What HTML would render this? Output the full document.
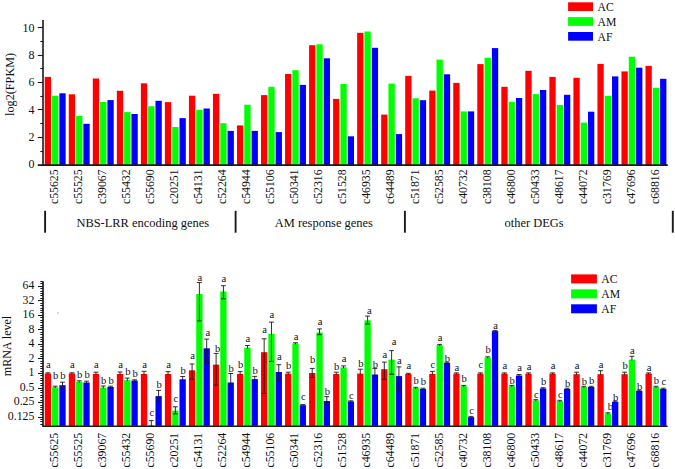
<!DOCTYPE html><html><head><meta charset="utf-8"><style>html,body{margin:0;padding:0;background:#fff;}body{width:675px;height:469px;overflow:hidden;}svg{display:block;}text{font-family:"Liberation Serif",serif;fill:#111;}</style></head><body>
<svg width="675" height="469" viewBox="0 0 675 469">
<rect width="675" height="469" fill="#fff"/>
<g>
<rect x="44.75" y="76.90" width="6.3" height="88.10" fill="#ff0000"/>
<rect x="52.05" y="95.70" width="6.3" height="69.30" fill="#00ff00"/>
<rect x="59.35" y="93.30" width="6.3" height="71.70" fill="#0000ff"/>
<rect x="68.78" y="94.30" width="6.3" height="70.70" fill="#ff0000"/>
<rect x="76.08" y="115.90" width="6.3" height="49.10" fill="#00ff00"/>
<rect x="83.38" y="123.80" width="6.3" height="41.20" fill="#0000ff"/>
<rect x="92.81" y="78.50" width="6.3" height="86.50" fill="#ff0000"/>
<rect x="100.11" y="102.00" width="6.3" height="63.00" fill="#00ff00"/>
<rect x="107.41" y="100.10" width="6.3" height="64.90" fill="#0000ff"/>
<rect x="116.84" y="90.75" width="6.3" height="74.25" fill="#ff0000"/>
<rect x="124.14" y="112.10" width="6.3" height="52.90" fill="#00ff00"/>
<rect x="131.44" y="114.00" width="6.3" height="51.00" fill="#0000ff"/>
<rect x="140.87" y="83.30" width="6.3" height="81.70" fill="#ff0000"/>
<rect x="148.17" y="106.30" width="6.3" height="58.70" fill="#00ff00"/>
<rect x="155.47" y="100.80" width="6.3" height="64.20" fill="#0000ff"/>
<rect x="164.90" y="102.10" width="6.3" height="62.90" fill="#ff0000"/>
<rect x="172.20" y="127.00" width="6.3" height="38.00" fill="#00ff00"/>
<rect x="179.50" y="118.10" width="6.3" height="46.90" fill="#0000ff"/>
<rect x="188.93" y="95.70" width="6.3" height="69.30" fill="#ff0000"/>
<rect x="196.23" y="109.80" width="6.3" height="55.20" fill="#00ff00"/>
<rect x="203.53" y="108.50" width="6.3" height="56.50" fill="#0000ff"/>
<rect x="212.96" y="93.80" width="6.3" height="71.20" fill="#ff0000"/>
<rect x="220.26" y="123.20" width="6.3" height="41.80" fill="#00ff00"/>
<rect x="227.56" y="130.90" width="6.3" height="34.10" fill="#0000ff"/>
<rect x="236.99" y="125.40" width="6.3" height="39.60" fill="#ff0000"/>
<rect x="244.29" y="104.70" width="6.3" height="60.30" fill="#00ff00"/>
<rect x="251.59" y="130.90" width="6.3" height="34.10" fill="#0000ff"/>
<rect x="261.02" y="95.10" width="6.3" height="69.90" fill="#ff0000"/>
<rect x="268.32" y="86.80" width="6.3" height="78.20" fill="#00ff00"/>
<rect x="275.62" y="132.10" width="6.3" height="32.90" fill="#0000ff"/>
<rect x="285.05" y="74.00" width="6.3" height="91.00" fill="#ff0000"/>
<rect x="292.35" y="70.20" width="6.3" height="94.80" fill="#00ff00"/>
<rect x="299.65" y="84.90" width="6.3" height="80.10" fill="#0000ff"/>
<rect x="309.08" y="45.20" width="6.3" height="119.80" fill="#ff0000"/>
<rect x="316.38" y="44.30" width="6.3" height="120.70" fill="#00ff00"/>
<rect x="323.68" y="58.30" width="6.3" height="106.70" fill="#0000ff"/>
<rect x="333.11" y="98.90" width="6.3" height="66.10" fill="#ff0000"/>
<rect x="340.41" y="83.90" width="6.3" height="81.10" fill="#00ff00"/>
<rect x="347.71" y="136.30" width="6.3" height="28.70" fill="#0000ff"/>
<rect x="357.14" y="32.80" width="6.3" height="132.20" fill="#ff0000"/>
<rect x="364.44" y="31.50" width="6.3" height="133.50" fill="#00ff00"/>
<rect x="371.74" y="47.80" width="6.3" height="117.20" fill="#0000ff"/>
<rect x="381.17" y="114.60" width="6.3" height="50.40" fill="#ff0000"/>
<rect x="388.47" y="83.60" width="6.3" height="81.40" fill="#00ff00"/>
<rect x="395.77" y="134.10" width="6.3" height="30.90" fill="#0000ff"/>
<rect x="405.20" y="75.90" width="6.3" height="89.10" fill="#ff0000"/>
<rect x="412.50" y="98.30" width="6.3" height="66.70" fill="#00ff00"/>
<rect x="419.80" y="100.20" width="6.3" height="64.80" fill="#0000ff"/>
<rect x="429.23" y="90.60" width="6.3" height="74.40" fill="#ff0000"/>
<rect x="436.53" y="59.60" width="6.3" height="105.40" fill="#00ff00"/>
<rect x="443.83" y="74.30" width="6.3" height="90.70" fill="#0000ff"/>
<rect x="453.26" y="82.90" width="6.3" height="82.10" fill="#ff0000"/>
<rect x="460.56" y="111.40" width="6.3" height="53.60" fill="#00ff00"/>
<rect x="467.86" y="111.40" width="6.3" height="53.60" fill="#0000ff"/>
<rect x="477.29" y="64.10" width="6.3" height="100.90" fill="#ff0000"/>
<rect x="484.59" y="57.70" width="6.3" height="107.30" fill="#00ff00"/>
<rect x="491.89" y="48.10" width="6.3" height="116.90" fill="#0000ff"/>
<rect x="501.32" y="86.80" width="6.3" height="78.20" fill="#ff0000"/>
<rect x="508.62" y="101.80" width="6.3" height="63.20" fill="#00ff00"/>
<rect x="515.92" y="98.00" width="6.3" height="67.00" fill="#0000ff"/>
<rect x="525.35" y="70.80" width="6.3" height="94.20" fill="#ff0000"/>
<rect x="532.65" y="94.10" width="6.3" height="70.90" fill="#00ff00"/>
<rect x="539.95" y="90.00" width="6.3" height="75.00" fill="#0000ff"/>
<rect x="549.38" y="76.90" width="6.3" height="88.10" fill="#ff0000"/>
<rect x="556.68" y="105.00" width="6.3" height="60.00" fill="#00ff00"/>
<rect x="563.98" y="94.80" width="6.3" height="70.20" fill="#0000ff"/>
<rect x="573.41" y="77.80" width="6.3" height="87.20" fill="#ff0000"/>
<rect x="580.71" y="122.60" width="6.3" height="42.40" fill="#00ff00"/>
<rect x="588.01" y="111.70" width="6.3" height="53.30" fill="#0000ff"/>
<rect x="597.44" y="63.90" width="6.3" height="101.10" fill="#ff0000"/>
<rect x="604.74" y="95.80" width="6.3" height="69.20" fill="#00ff00"/>
<rect x="612.04" y="76.40" width="6.3" height="88.60" fill="#0000ff"/>
<rect x="621.47" y="71.40" width="6.3" height="93.60" fill="#ff0000"/>
<rect x="628.77" y="56.70" width="6.3" height="108.30" fill="#00ff00"/>
<rect x="636.07" y="67.70" width="6.3" height="97.30" fill="#0000ff"/>
<rect x="645.50" y="65.90" width="6.3" height="99.10" fill="#ff0000"/>
<rect x="652.80" y="87.80" width="6.3" height="77.20" fill="#00ff00"/>
<rect x="660.10" y="78.80" width="6.3" height="86.20" fill="#0000ff"/>
<line x1="43" y1="20.1" x2="43" y2="165.8" stroke="#1a1a1a" stroke-width="1.6"/>
<line x1="37.8" y1="165.1" x2="667.8" y2="165.1" stroke="#1a1a1a" stroke-width="1.6"/>
<text x="34.6" y="168.30" font-size="12" text-anchor="end">0</text>
<line x1="40.3" y1="151.50" x2="43" y2="151.50" stroke="#1a1a1a" stroke-width="1.1"/>
<line x1="37.8" y1="137.50" x2="43" y2="137.50" stroke="#1a1a1a" stroke-width="1.1"/>
<text x="34.6" y="140.94" font-size="12" text-anchor="end">2</text>
<line x1="40.3" y1="123.50" x2="43" y2="123.50" stroke="#1a1a1a" stroke-width="1.1"/>
<line x1="37.8" y1="109.50" x2="43" y2="109.50" stroke="#1a1a1a" stroke-width="1.1"/>
<text x="34.6" y="113.58" font-size="12" text-anchor="end">4</text>
<line x1="40.3" y1="96.50" x2="43" y2="96.50" stroke="#1a1a1a" stroke-width="1.1"/>
<line x1="37.8" y1="82.50" x2="43" y2="82.50" stroke="#1a1a1a" stroke-width="1.1"/>
<text x="34.6" y="86.22" font-size="12" text-anchor="end">6</text>
<line x1="40.3" y1="68.50" x2="43" y2="68.50" stroke="#1a1a1a" stroke-width="1.1"/>
<line x1="37.8" y1="55.50" x2="43" y2="55.50" stroke="#1a1a1a" stroke-width="1.1"/>
<text x="34.6" y="58.86" font-size="12" text-anchor="end">8</text>
<line x1="40.3" y1="41.50" x2="43" y2="41.50" stroke="#1a1a1a" stroke-width="1.1"/>
<line x1="37.8" y1="27.50" x2="43" y2="27.50" stroke="#1a1a1a" stroke-width="1.1"/>
<text x="34.6" y="31.50" font-size="12" text-anchor="end">10</text>
<text transform="translate(14.0,84.4) rotate(-90)" font-size="12.2" text-anchor="middle">log2(FPKM)</text>
<text transform="translate(58.05,169.4) rotate(-90) scale(1,1.07)" font-size="11.8" text-anchor="end">c55625</text>
<text transform="translate(82.08,169.4) rotate(-90) scale(1,1.07)" font-size="11.8" text-anchor="end">c55525</text>
<text transform="translate(106.11,169.4) rotate(-90) scale(1,1.07)" font-size="11.8" text-anchor="end">c39067</text>
<text transform="translate(130.14,169.4) rotate(-90) scale(1,1.07)" font-size="11.8" text-anchor="end">c55432</text>
<text transform="translate(154.17,169.4) rotate(-90) scale(1,1.07)" font-size="11.8" text-anchor="end">c55690</text>
<text transform="translate(178.20,169.4) rotate(-90) scale(1,1.07)" font-size="11.8" text-anchor="end">c20251</text>
<text transform="translate(202.23,169.4) rotate(-90) scale(1,1.07)" font-size="11.8" text-anchor="end">c54131</text>
<text transform="translate(226.26,169.4) rotate(-90) scale(1,1.07)" font-size="11.8" text-anchor="end">c52264</text>
<text transform="translate(250.29,169.4) rotate(-90) scale(1,1.07)" font-size="11.8" text-anchor="end">c54944</text>
<text transform="translate(274.32,169.4) rotate(-90) scale(1,1.07)" font-size="11.8" text-anchor="end">c55106</text>
<text transform="translate(298.35,169.4) rotate(-90) scale(1,1.07)" font-size="11.8" text-anchor="end">c50341</text>
<text transform="translate(322.38,169.4) rotate(-90) scale(1,1.07)" font-size="11.8" text-anchor="end">c52316</text>
<text transform="translate(346.41,169.4) rotate(-90) scale(1,1.07)" font-size="11.8" text-anchor="end">c51528</text>
<text transform="translate(370.44,169.4) rotate(-90) scale(1,1.07)" font-size="11.8" text-anchor="end">c46935</text>
<text transform="translate(394.47,169.4) rotate(-90) scale(1,1.07)" font-size="11.8" text-anchor="end">c64489</text>
<text transform="translate(418.50,169.4) rotate(-90) scale(1,1.07)" font-size="11.8" text-anchor="end">c51871</text>
<text transform="translate(442.53,169.4) rotate(-90) scale(1,1.07)" font-size="11.8" text-anchor="end">c52585</text>
<text transform="translate(466.56,169.4) rotate(-90) scale(1,1.07)" font-size="11.8" text-anchor="end">c40732</text>
<text transform="translate(490.59,169.4) rotate(-90) scale(1,1.07)" font-size="11.8" text-anchor="end">c38108</text>
<text transform="translate(514.62,169.4) rotate(-90) scale(1,1.07)" font-size="11.8" text-anchor="end">c46800</text>
<text transform="translate(538.65,169.4) rotate(-90) scale(1,1.07)" font-size="11.8" text-anchor="end">c50433</text>
<text transform="translate(562.68,169.4) rotate(-90) scale(1,1.07)" font-size="11.8" text-anchor="end">c48617</text>
<text transform="translate(586.71,169.4) rotate(-90) scale(1,1.07)" font-size="11.8" text-anchor="end">c44072</text>
<text transform="translate(610.74,169.4) rotate(-90) scale(1,1.07)" font-size="11.8" text-anchor="end">c31769</text>
<text transform="translate(634.77,169.4) rotate(-90) scale(1,1.07)" font-size="11.8" text-anchor="end">c47696</text>
<text transform="translate(658.80,169.4) rotate(-90) scale(1,1.07)" font-size="11.8" text-anchor="end">c68816</text>
<rect x="568.1" y="2.30" width="24.9" height="8.7" fill="#ff0000"/>
<text x="597.6" y="10.80" font-size="11.7">AC</text>
<rect x="568.1" y="17.15" width="24.9" height="8.7" fill="#00ff00"/>
<text x="597.6" y="25.65" font-size="11.7">AM</text>
<rect x="568.1" y="32.00" width="24.9" height="8.7" fill="#0000ff"/>
<text x="597.6" y="40.50" font-size="11.7">AF</text>
<line x1="45.1" y1="210.8" x2="45.1" y2="232.7" stroke="#1a1a1a" stroke-width="1.9"/>
<line x1="235.6" y1="210.8" x2="235.6" y2="232.7" stroke="#1a1a1a" stroke-width="1.9"/>
<line x1="404.9" y1="210.8" x2="404.9" y2="232.7" stroke="#1a1a1a" stroke-width="1.9"/>
<line x1="672.8" y1="210.8" x2="672.8" y2="232.7" stroke="#1a1a1a" stroke-width="1.9"/>
<text transform="translate(76.4,226.9) scale(1,1.05)" font-size="12.45">NBS-LRR encoding genes</text>
<text transform="translate(274.8,226.9) scale(1,1.05)" font-size="12.45">AM response genes</text>
<text transform="translate(504.5,226.9) scale(1,1.05)" font-size="12.45">other DEGs</text>
<rect x="44.75" y="373.50" width="6.3" height="52.40" fill="#ff0000"/>
<line x1="47.90" y1="372.80" x2="47.90" y2="374.30" stroke="#1a1a1a" stroke-width="0.9"/>
<line x1="45.50" y1="372.80" x2="50.30" y2="372.80" stroke="#1a1a1a" stroke-width="0.9"/>
<text x="48.40" y="368.00" font-size="10.6" text-anchor="middle">a</text>
<rect x="52.05" y="387.20" width="6.3" height="38.70" fill="#00ff00"/>
<line x1="55.20" y1="386.20" x2="55.20" y2="388.00" stroke="#1a1a1a" stroke-width="0.9"/>
<line x1="52.80" y1="386.20" x2="57.60" y2="386.20" stroke="#1a1a1a" stroke-width="0.9"/>
<text x="55.70" y="378.90" font-size="10.6" text-anchor="middle">b</text>
<rect x="59.35" y="385.20" width="6.3" height="40.70" fill="#0000ff"/>
<line x1="62.50" y1="382.20" x2="62.50" y2="388.00" stroke="#1a1a1a" stroke-width="0.9"/>
<line x1="60.10" y1="382.20" x2="64.90" y2="382.20" stroke="#1a1a1a" stroke-width="0.9"/>
<line x1="60.10" y1="388.00" x2="64.90" y2="388.00" stroke="#1a1a1a" stroke-width="0.9"/>
<text x="63.00" y="378.90" font-size="10.6" text-anchor="middle">b</text>
<rect x="68.78" y="373.50" width="6.3" height="52.40" fill="#ff0000"/>
<line x1="71.93" y1="372.80" x2="71.93" y2="374.30" stroke="#1a1a1a" stroke-width="0.9"/>
<line x1="69.53" y1="372.80" x2="74.33" y2="372.80" stroke="#1a1a1a" stroke-width="0.9"/>
<text x="72.43" y="368.30" font-size="10.6" text-anchor="middle">a</text>
<rect x="76.08" y="381.70" width="6.3" height="44.20" fill="#00ff00"/>
<line x1="79.23" y1="380.80" x2="79.23" y2="382.50" stroke="#1a1a1a" stroke-width="0.9"/>
<line x1="76.83" y1="380.80" x2="81.63" y2="380.80" stroke="#1a1a1a" stroke-width="0.9"/>
<text x="79.73" y="377.50" font-size="10.6" text-anchor="middle">b</text>
<rect x="83.38" y="382.50" width="6.3" height="43.40" fill="#0000ff"/>
<line x1="86.53" y1="381.20" x2="86.53" y2="383.30" stroke="#1a1a1a" stroke-width="0.9"/>
<line x1="84.13" y1="381.20" x2="88.93" y2="381.20" stroke="#1a1a1a" stroke-width="0.9"/>
<text x="87.03" y="377.50" font-size="10.6" text-anchor="middle">b</text>
<rect x="92.81" y="373.90" width="6.3" height="52.00" fill="#ff0000"/>
<line x1="95.96" y1="372.20" x2="95.96" y2="374.70" stroke="#1a1a1a" stroke-width="0.9"/>
<line x1="93.56" y1="372.20" x2="98.36" y2="372.20" stroke="#1a1a1a" stroke-width="0.9"/>
<text x="96.46" y="368.40" font-size="10.6" text-anchor="middle">a</text>
<rect x="100.11" y="387.60" width="6.3" height="38.30" fill="#00ff00"/>
<line x1="103.26" y1="386.00" x2="103.26" y2="388.40" stroke="#1a1a1a" stroke-width="0.9"/>
<line x1="100.86" y1="386.00" x2="105.66" y2="386.00" stroke="#1a1a1a" stroke-width="0.9"/>
<text x="103.76" y="383.60" font-size="10.6" text-anchor="middle">b</text>
<rect x="107.41" y="387.00" width="6.3" height="38.90" fill="#0000ff"/>
<line x1="110.56" y1="386.20" x2="110.56" y2="387.80" stroke="#1a1a1a" stroke-width="0.9"/>
<line x1="108.16" y1="386.20" x2="112.96" y2="386.20" stroke="#1a1a1a" stroke-width="0.9"/>
<text x="111.06" y="383.60" font-size="10.6" text-anchor="middle">b</text>
<rect x="116.84" y="374.00" width="6.3" height="51.90" fill="#ff0000"/>
<line x1="119.99" y1="372.00" x2="119.99" y2="374.80" stroke="#1a1a1a" stroke-width="0.9"/>
<line x1="117.59" y1="372.00" x2="122.39" y2="372.00" stroke="#1a1a1a" stroke-width="0.9"/>
<text x="120.49" y="368.40" font-size="10.6" text-anchor="middle">a</text>
<rect x="124.14" y="380.20" width="6.3" height="45.70" fill="#00ff00"/>
<line x1="127.29" y1="378.10" x2="127.29" y2="381.00" stroke="#1a1a1a" stroke-width="0.9"/>
<line x1="124.89" y1="378.10" x2="129.69" y2="378.10" stroke="#1a1a1a" stroke-width="0.9"/>
<text x="127.79" y="374.70" font-size="10.6" text-anchor="middle">b</text>
<rect x="131.44" y="380.50" width="6.3" height="45.40" fill="#0000ff"/>
<line x1="134.59" y1="379.80" x2="134.59" y2="381.30" stroke="#1a1a1a" stroke-width="0.9"/>
<line x1="132.19" y1="379.80" x2="136.99" y2="379.80" stroke="#1a1a1a" stroke-width="0.9"/>
<text x="135.09" y="376.50" font-size="10.6" text-anchor="middle">b</text>
<rect x="140.87" y="374.00" width="6.3" height="51.90" fill="#ff0000"/>
<line x1="144.02" y1="371.30" x2="144.02" y2="374.80" stroke="#1a1a1a" stroke-width="0.9"/>
<line x1="141.62" y1="371.30" x2="146.42" y2="371.30" stroke="#1a1a1a" stroke-width="0.9"/>
<text x="144.52" y="368.40" font-size="10.6" text-anchor="middle">a</text>
<line x1="151.32" y1="420.60" x2="151.32" y2="426.00" stroke="#1a1a1a" stroke-width="0.9"/>
<line x1="148.92" y1="420.60" x2="153.72" y2="420.60" stroke="#1a1a1a" stroke-width="0.9"/>
<line x1="148.92" y1="426.00" x2="153.72" y2="426.00" stroke="#1a1a1a" stroke-width="0.9"/>
<text x="151.82" y="416.40" font-size="10.6" text-anchor="middle">c</text>
<rect x="155.47" y="396.10" width="6.3" height="29.80" fill="#0000ff"/>
<line x1="158.62" y1="390.40" x2="158.62" y2="401.40" stroke="#1a1a1a" stroke-width="0.9"/>
<line x1="156.22" y1="390.40" x2="161.02" y2="390.40" stroke="#1a1a1a" stroke-width="0.9"/>
<line x1="156.22" y1="401.40" x2="161.02" y2="401.40" stroke="#1a1a1a" stroke-width="0.9"/>
<text x="159.12" y="387.70" font-size="10.6" text-anchor="middle">b</text>
<rect x="164.90" y="374.00" width="6.3" height="51.90" fill="#ff0000"/>
<line x1="168.05" y1="371.70" x2="168.05" y2="374.80" stroke="#1a1a1a" stroke-width="0.9"/>
<line x1="165.65" y1="371.70" x2="170.45" y2="371.70" stroke="#1a1a1a" stroke-width="0.9"/>
<text x="168.55" y="368.40" font-size="10.6" text-anchor="middle">a</text>
<rect x="172.20" y="410.60" width="6.3" height="15.30" fill="#00ff00"/>
<line x1="175.35" y1="406.80" x2="175.35" y2="413.90" stroke="#1a1a1a" stroke-width="0.9"/>
<line x1="172.95" y1="406.80" x2="177.75" y2="406.80" stroke="#1a1a1a" stroke-width="0.9"/>
<line x1="172.95" y1="413.90" x2="177.75" y2="413.90" stroke="#1a1a1a" stroke-width="0.9"/>
<text x="175.85" y="402.40" font-size="10.6" text-anchor="middle">c</text>
<rect x="179.50" y="379.30" width="6.3" height="46.60" fill="#0000ff"/>
<line x1="182.65" y1="376.50" x2="182.65" y2="380.10" stroke="#1a1a1a" stroke-width="0.9"/>
<line x1="180.25" y1="376.50" x2="185.05" y2="376.50" stroke="#1a1a1a" stroke-width="0.9"/>
<text x="183.15" y="373.60" font-size="10.6" text-anchor="middle">b</text>
<rect x="188.93" y="370.30" width="6.3" height="55.60" fill="#ff0000"/>
<line x1="192.08" y1="364.00" x2="192.08" y2="379.30" stroke="#1a1a1a" stroke-width="0.9"/>
<line x1="189.68" y1="364.00" x2="194.48" y2="364.00" stroke="#1a1a1a" stroke-width="0.9"/>
<line x1="189.68" y1="379.30" x2="194.48" y2="379.30" stroke="#1a1a1a" stroke-width="0.9"/>
<text x="192.58" y="359.20" font-size="10.6" text-anchor="middle">a</text>
<rect x="196.23" y="294.00" width="6.3" height="131.90" fill="#00ff00"/>
<line x1="199.38" y1="282.50" x2="199.38" y2="320.90" stroke="#1a1a1a" stroke-width="0.9"/>
<line x1="196.98" y1="282.50" x2="201.78" y2="282.50" stroke="#1a1a1a" stroke-width="0.9"/>
<line x1="196.98" y1="320.90" x2="201.78" y2="320.90" stroke="#1a1a1a" stroke-width="0.9"/>
<text x="199.88" y="280.60" font-size="10.6" text-anchor="middle">a</text>
<rect x="203.53" y="348.30" width="6.3" height="77.60" fill="#0000ff"/>
<line x1="206.68" y1="339.10" x2="206.68" y2="363.00" stroke="#1a1a1a" stroke-width="0.9"/>
<line x1="204.28" y1="339.10" x2="209.08" y2="339.10" stroke="#1a1a1a" stroke-width="0.9"/>
<line x1="204.28" y1="363.00" x2="209.08" y2="363.00" stroke="#1a1a1a" stroke-width="0.9"/>
<text x="207.78" y="336.20" font-size="10.6" text-anchor="middle">a</text>
<rect x="212.96" y="364.60" width="6.3" height="61.30" fill="#ff0000"/>
<line x1="216.11" y1="353.40" x2="216.11" y2="385.10" stroke="#1a1a1a" stroke-width="0.9"/>
<line x1="213.71" y1="353.40" x2="218.51" y2="353.40" stroke="#1a1a1a" stroke-width="0.9"/>
<line x1="213.71" y1="385.10" x2="218.51" y2="385.10" stroke="#1a1a1a" stroke-width="0.9"/>
<text x="217.61" y="351.50" font-size="10.6" text-anchor="middle">b</text>
<rect x="220.26" y="291.50" width="6.3" height="134.40" fill="#00ff00"/>
<line x1="223.41" y1="285.70" x2="223.41" y2="298.80" stroke="#1a1a1a" stroke-width="0.9"/>
<line x1="221.01" y1="285.70" x2="225.81" y2="285.70" stroke="#1a1a1a" stroke-width="0.9"/>
<line x1="221.01" y1="298.80" x2="225.81" y2="298.80" stroke="#1a1a1a" stroke-width="0.9"/>
<text x="223.91" y="281.90" font-size="10.6" text-anchor="middle">a</text>
<rect x="227.56" y="382.50" width="6.3" height="43.40" fill="#0000ff"/>
<line x1="230.71" y1="373.50" x2="230.71" y2="384.00" stroke="#1a1a1a" stroke-width="0.9"/>
<line x1="228.31" y1="373.50" x2="233.11" y2="373.50" stroke="#1a1a1a" stroke-width="0.9"/>
<line x1="228.31" y1="384.00" x2="233.11" y2="384.00" stroke="#1a1a1a" stroke-width="0.9"/>
<text x="231.21" y="371.60" font-size="10.6" text-anchor="middle">b</text>
<rect x="236.99" y="373.90" width="6.3" height="52.00" fill="#ff0000"/>
<line x1="240.14" y1="371.60" x2="240.14" y2="374.70" stroke="#1a1a1a" stroke-width="0.9"/>
<line x1="237.74" y1="371.60" x2="242.54" y2="371.60" stroke="#1a1a1a" stroke-width="0.9"/>
<text x="240.64" y="368.10" font-size="10.6" text-anchor="middle">b</text>
<rect x="244.29" y="347.60" width="6.3" height="78.30" fill="#00ff00"/>
<line x1="247.44" y1="345.50" x2="247.44" y2="348.40" stroke="#1a1a1a" stroke-width="0.9"/>
<line x1="245.04" y1="345.50" x2="249.84" y2="345.50" stroke="#1a1a1a" stroke-width="0.9"/>
<text x="247.94" y="341.80" font-size="10.6" text-anchor="middle">a</text>
<rect x="251.59" y="379.10" width="6.3" height="46.80" fill="#0000ff"/>
<line x1="254.74" y1="376.40" x2="254.74" y2="379.90" stroke="#1a1a1a" stroke-width="0.9"/>
<line x1="252.34" y1="376.40" x2="257.14" y2="376.40" stroke="#1a1a1a" stroke-width="0.9"/>
<text x="255.24" y="373.90" font-size="10.6" text-anchor="middle">b</text>
<rect x="261.02" y="352.20" width="6.3" height="73.70" fill="#ff0000"/>
<line x1="264.17" y1="338.80" x2="264.17" y2="393.40" stroke="#1a1a1a" stroke-width="0.9"/>
<line x1="261.77" y1="338.80" x2="266.57" y2="338.80" stroke="#1a1a1a" stroke-width="0.9"/>
<line x1="261.77" y1="393.40" x2="266.57" y2="393.40" stroke="#1a1a1a" stroke-width="0.9"/>
<text x="264.67" y="332.60" font-size="10.6" text-anchor="middle">a</text>
<rect x="268.32" y="334.00" width="6.3" height="91.90" fill="#00ff00"/>
<line x1="271.47" y1="322.10" x2="271.47" y2="361.40" stroke="#1a1a1a" stroke-width="0.9"/>
<line x1="269.07" y1="322.10" x2="273.87" y2="322.10" stroke="#1a1a1a" stroke-width="0.9"/>
<line x1="269.07" y1="361.40" x2="273.87" y2="361.40" stroke="#1a1a1a" stroke-width="0.9"/>
<text x="271.97" y="318.20" font-size="10.6" text-anchor="middle">a</text>
<rect x="275.62" y="372.00" width="6.3" height="53.90" fill="#0000ff"/>
<line x1="278.77" y1="364.70" x2="278.77" y2="380.00" stroke="#1a1a1a" stroke-width="0.9"/>
<line x1="276.37" y1="364.70" x2="281.17" y2="364.70" stroke="#1a1a1a" stroke-width="0.9"/>
<line x1="276.37" y1="380.00" x2="281.17" y2="380.00" stroke="#1a1a1a" stroke-width="0.9"/>
<text x="279.27" y="360.40" font-size="10.6" text-anchor="middle">a</text>
<rect x="285.05" y="373.60" width="6.3" height="52.30" fill="#ff0000"/>
<line x1="288.20" y1="372.20" x2="288.20" y2="374.40" stroke="#1a1a1a" stroke-width="0.9"/>
<line x1="285.80" y1="372.20" x2="290.60" y2="372.20" stroke="#1a1a1a" stroke-width="0.9"/>
<text x="288.70" y="368.60" font-size="10.6" text-anchor="middle">b</text>
<rect x="292.35" y="343.50" width="6.3" height="82.40" fill="#00ff00"/>
<line x1="295.50" y1="342.80" x2="295.50" y2="344.30" stroke="#1a1a1a" stroke-width="0.9"/>
<line x1="293.10" y1="342.80" x2="297.90" y2="342.80" stroke="#1a1a1a" stroke-width="0.9"/>
<text x="296.00" y="340.30" font-size="10.6" text-anchor="middle">a</text>
<rect x="299.65" y="405.20" width="6.3" height="20.70" fill="#0000ff"/>
<line x1="302.80" y1="404.60" x2="302.80" y2="406.00" stroke="#1a1a1a" stroke-width="0.9"/>
<line x1="300.40" y1="404.60" x2="305.20" y2="404.60" stroke="#1a1a1a" stroke-width="0.9"/>
<text x="303.30" y="400.40" font-size="10.6" text-anchor="middle">c</text>
<rect x="309.08" y="373.00" width="6.3" height="52.90" fill="#ff0000"/>
<line x1="312.23" y1="368.40" x2="312.23" y2="377.40" stroke="#1a1a1a" stroke-width="0.9"/>
<line x1="309.83" y1="368.40" x2="314.63" y2="368.40" stroke="#1a1a1a" stroke-width="0.9"/>
<line x1="309.83" y1="377.40" x2="314.63" y2="377.40" stroke="#1a1a1a" stroke-width="0.9"/>
<text x="312.73" y="363.00" font-size="10.6" text-anchor="middle">b</text>
<rect x="316.38" y="332.40" width="6.3" height="93.50" fill="#00ff00"/>
<line x1="319.53" y1="328.90" x2="319.53" y2="334.70" stroke="#1a1a1a" stroke-width="0.9"/>
<line x1="317.13" y1="328.90" x2="321.93" y2="328.90" stroke="#1a1a1a" stroke-width="0.9"/>
<line x1="317.13" y1="334.70" x2="321.93" y2="334.70" stroke="#1a1a1a" stroke-width="0.9"/>
<text x="320.03" y="325.10" font-size="10.6" text-anchor="middle">a</text>
<rect x="323.68" y="401.00" width="6.3" height="24.90" fill="#0000ff"/>
<line x1="326.83" y1="396.60" x2="326.83" y2="404.00" stroke="#1a1a1a" stroke-width="0.9"/>
<line x1="324.43" y1="396.60" x2="329.23" y2="396.60" stroke="#1a1a1a" stroke-width="0.9"/>
<line x1="324.43" y1="404.00" x2="329.23" y2="404.00" stroke="#1a1a1a" stroke-width="0.9"/>
<text x="327.33" y="394.70" font-size="10.6" text-anchor="middle">b</text>
<rect x="333.11" y="374.00" width="6.3" height="51.90" fill="#ff0000"/>
<line x1="336.26" y1="372.20" x2="336.26" y2="374.80" stroke="#1a1a1a" stroke-width="0.9"/>
<line x1="333.86" y1="372.20" x2="338.66" y2="372.20" stroke="#1a1a1a" stroke-width="0.9"/>
<text x="336.76" y="369.70" font-size="10.6" text-anchor="middle">b</text>
<rect x="340.41" y="367.40" width="6.3" height="58.50" fill="#00ff00"/>
<line x1="343.56" y1="365.90" x2="343.56" y2="368.20" stroke="#1a1a1a" stroke-width="0.9"/>
<line x1="341.16" y1="365.90" x2="345.96" y2="365.90" stroke="#1a1a1a" stroke-width="0.9"/>
<text x="344.06" y="362.10" font-size="10.6" text-anchor="middle">a</text>
<rect x="347.71" y="401.40" width="6.3" height="24.50" fill="#0000ff"/>
<line x1="350.86" y1="400.80" x2="350.86" y2="402.20" stroke="#1a1a1a" stroke-width="0.9"/>
<line x1="348.46" y1="400.80" x2="353.26" y2="400.80" stroke="#1a1a1a" stroke-width="0.9"/>
<text x="351.36" y="399.10" font-size="10.6" text-anchor="middle">c</text>
<rect x="357.14" y="373.60" width="6.3" height="52.30" fill="#ff0000"/>
<line x1="360.29" y1="369.20" x2="360.29" y2="374.40" stroke="#1a1a1a" stroke-width="0.9"/>
<line x1="357.89" y1="369.20" x2="362.69" y2="369.20" stroke="#1a1a1a" stroke-width="0.9"/>
<text x="360.79" y="366.90" font-size="10.6" text-anchor="middle">b</text>
<rect x="364.44" y="320.30" width="6.3" height="105.60" fill="#00ff00"/>
<line x1="367.59" y1="316.10" x2="367.59" y2="324.10" stroke="#1a1a1a" stroke-width="0.9"/>
<line x1="365.19" y1="316.10" x2="369.99" y2="316.10" stroke="#1a1a1a" stroke-width="0.9"/>
<line x1="365.19" y1="324.10" x2="369.99" y2="324.10" stroke="#1a1a1a" stroke-width="0.9"/>
<text x="369.29" y="314.20" font-size="10.6" text-anchor="middle">a</text>
<rect x="371.74" y="374.50" width="6.3" height="51.40" fill="#0000ff"/>
<line x1="374.89" y1="368.40" x2="374.89" y2="375.30" stroke="#1a1a1a" stroke-width="0.9"/>
<line x1="372.49" y1="368.40" x2="377.29" y2="368.40" stroke="#1a1a1a" stroke-width="0.9"/>
<text x="375.39" y="367.80" font-size="10.6" text-anchor="middle">b</text>
<rect x="381.17" y="369.20" width="6.3" height="56.70" fill="#ff0000"/>
<line x1="384.32" y1="362.10" x2="384.32" y2="379.30" stroke="#1a1a1a" stroke-width="0.9"/>
<line x1="381.92" y1="362.10" x2="386.72" y2="362.10" stroke="#1a1a1a" stroke-width="0.9"/>
<line x1="381.92" y1="379.30" x2="386.72" y2="379.30" stroke="#1a1a1a" stroke-width="0.9"/>
<text x="384.82" y="358.20" font-size="10.6" text-anchor="middle">a</text>
<rect x="388.47" y="359.60" width="6.3" height="66.30" fill="#00ff00"/>
<line x1="391.62" y1="350.60" x2="391.62" y2="374.20" stroke="#1a1a1a" stroke-width="0.9"/>
<line x1="389.22" y1="350.60" x2="394.02" y2="350.60" stroke="#1a1a1a" stroke-width="0.9"/>
<line x1="389.22" y1="374.20" x2="394.02" y2="374.20" stroke="#1a1a1a" stroke-width="0.9"/>
<text x="394.12" y="345.40" font-size="10.6" text-anchor="middle">a</text>
<rect x="395.77" y="376.10" width="6.3" height="49.80" fill="#0000ff"/>
<line x1="398.92" y1="366.90" x2="398.92" y2="390.90" stroke="#1a1a1a" stroke-width="0.9"/>
<line x1="396.52" y1="366.90" x2="401.32" y2="366.90" stroke="#1a1a1a" stroke-width="0.9"/>
<line x1="396.52" y1="390.90" x2="401.32" y2="390.90" stroke="#1a1a1a" stroke-width="0.9"/>
<text x="399.42" y="364.00" font-size="10.6" text-anchor="middle">a</text>
<rect x="405.20" y="374.00" width="6.3" height="51.90" fill="#ff0000"/>
<line x1="408.35" y1="373.30" x2="408.35" y2="374.80" stroke="#1a1a1a" stroke-width="0.9"/>
<line x1="405.95" y1="373.30" x2="410.75" y2="373.30" stroke="#1a1a1a" stroke-width="0.9"/>
<text x="408.85" y="368.80" font-size="10.6" text-anchor="middle">a</text>
<rect x="412.50" y="388.00" width="6.3" height="37.90" fill="#00ff00"/>
<line x1="415.65" y1="387.30" x2="415.65" y2="388.80" stroke="#1a1a1a" stroke-width="0.9"/>
<line x1="413.25" y1="387.30" x2="418.05" y2="387.30" stroke="#1a1a1a" stroke-width="0.9"/>
<text x="416.15" y="384.10" font-size="10.6" text-anchor="middle">b</text>
<rect x="419.80" y="388.90" width="6.3" height="37.00" fill="#0000ff"/>
<line x1="422.95" y1="388.20" x2="422.95" y2="389.70" stroke="#1a1a1a" stroke-width="0.9"/>
<line x1="420.55" y1="388.20" x2="425.35" y2="388.20" stroke="#1a1a1a" stroke-width="0.9"/>
<text x="423.45" y="385.10" font-size="10.6" text-anchor="middle">b</text>
<rect x="429.23" y="373.90" width="6.3" height="52.00" fill="#ff0000"/>
<line x1="432.38" y1="371.40" x2="432.38" y2="374.70" stroke="#1a1a1a" stroke-width="0.9"/>
<line x1="429.98" y1="371.40" x2="434.78" y2="371.40" stroke="#1a1a1a" stroke-width="0.9"/>
<text x="432.88" y="367.50" font-size="10.6" text-anchor="middle">c</text>
<rect x="436.53" y="345.10" width="6.3" height="80.80" fill="#00ff00"/>
<line x1="439.68" y1="344.40" x2="439.68" y2="345.90" stroke="#1a1a1a" stroke-width="0.9"/>
<line x1="437.28" y1="344.40" x2="442.08" y2="344.40" stroke="#1a1a1a" stroke-width="0.9"/>
<text x="440.18" y="341.30" font-size="10.6" text-anchor="middle">a</text>
<rect x="443.83" y="362.90" width="6.3" height="63.00" fill="#0000ff"/>
<line x1="446.98" y1="362.20" x2="446.98" y2="363.70" stroke="#1a1a1a" stroke-width="0.9"/>
<line x1="444.58" y1="362.20" x2="449.38" y2="362.20" stroke="#1a1a1a" stroke-width="0.9"/>
<text x="447.48" y="361.80" font-size="10.6" text-anchor="middle">b</text>
<rect x="453.26" y="373.60" width="6.3" height="52.30" fill="#ff0000"/>
<line x1="456.41" y1="372.90" x2="456.41" y2="374.40" stroke="#1a1a1a" stroke-width="0.9"/>
<line x1="454.01" y1="372.90" x2="458.81" y2="372.90" stroke="#1a1a1a" stroke-width="0.9"/>
<text x="456.91" y="370.70" font-size="10.6" text-anchor="middle">a</text>
<rect x="460.56" y="386.10" width="6.3" height="39.80" fill="#00ff00"/>
<line x1="463.71" y1="385.40" x2="463.71" y2="386.90" stroke="#1a1a1a" stroke-width="0.9"/>
<line x1="461.31" y1="385.40" x2="466.11" y2="385.40" stroke="#1a1a1a" stroke-width="0.9"/>
<text x="464.21" y="381.80" font-size="10.6" text-anchor="middle">b</text>
<rect x="467.86" y="417.10" width="6.3" height="8.80" fill="#0000ff"/>
<line x1="471.01" y1="416.40" x2="471.01" y2="417.90" stroke="#1a1a1a" stroke-width="0.9"/>
<line x1="468.61" y1="416.40" x2="473.41" y2="416.40" stroke="#1a1a1a" stroke-width="0.9"/>
<text x="471.51" y="413.90" font-size="10.6" text-anchor="middle">c</text>
<rect x="477.29" y="373.60" width="6.3" height="52.30" fill="#ff0000"/>
<line x1="480.44" y1="372.90" x2="480.44" y2="374.40" stroke="#1a1a1a" stroke-width="0.9"/>
<line x1="478.04" y1="372.90" x2="482.84" y2="372.90" stroke="#1a1a1a" stroke-width="0.9"/>
<text x="480.94" y="367.80" font-size="10.6" text-anchor="middle">c</text>
<rect x="484.59" y="357.50" width="6.3" height="68.40" fill="#00ff00"/>
<line x1="487.74" y1="356.80" x2="487.74" y2="358.30" stroke="#1a1a1a" stroke-width="0.9"/>
<line x1="485.34" y1="356.80" x2="490.14" y2="356.80" stroke="#1a1a1a" stroke-width="0.9"/>
<text x="488.24" y="353.00" font-size="10.6" text-anchor="middle">b</text>
<rect x="491.89" y="331.10" width="6.3" height="94.80" fill="#0000ff"/>
<line x1="495.04" y1="330.40" x2="495.04" y2="331.90" stroke="#1a1a1a" stroke-width="0.9"/>
<line x1="492.64" y1="330.40" x2="497.44" y2="330.40" stroke="#1a1a1a" stroke-width="0.9"/>
<text x="495.54" y="328.80" font-size="10.6" text-anchor="middle">a</text>
<rect x="501.32" y="373.60" width="6.3" height="52.30" fill="#ff0000"/>
<line x1="504.47" y1="372.90" x2="504.47" y2="374.40" stroke="#1a1a1a" stroke-width="0.9"/>
<line x1="502.07" y1="372.90" x2="506.87" y2="372.90" stroke="#1a1a1a" stroke-width="0.9"/>
<text x="504.97" y="368.80" font-size="10.6" text-anchor="middle">a</text>
<rect x="508.62" y="386.10" width="6.3" height="39.80" fill="#00ff00"/>
<line x1="511.77" y1="385.40" x2="511.77" y2="386.90" stroke="#1a1a1a" stroke-width="0.9"/>
<line x1="509.37" y1="385.40" x2="514.17" y2="385.40" stroke="#1a1a1a" stroke-width="0.9"/>
<text x="512.27" y="383.80" font-size="10.6" text-anchor="middle">b</text>
<rect x="515.92" y="375.50" width="6.3" height="50.40" fill="#0000ff"/>
<line x1="519.07" y1="374.50" x2="519.07" y2="376.30" stroke="#1a1a1a" stroke-width="0.9"/>
<line x1="516.67" y1="374.50" x2="521.47" y2="374.50" stroke="#1a1a1a" stroke-width="0.9"/>
<text x="519.57" y="370.70" font-size="10.6" text-anchor="middle">a</text>
<rect x="525.35" y="373.60" width="6.3" height="52.30" fill="#ff0000"/>
<line x1="528.50" y1="372.90" x2="528.50" y2="374.40" stroke="#1a1a1a" stroke-width="0.9"/>
<line x1="526.10" y1="372.90" x2="530.90" y2="372.90" stroke="#1a1a1a" stroke-width="0.9"/>
<text x="529.00" y="370.00" font-size="10.6" text-anchor="middle">a</text>
<rect x="532.65" y="400.40" width="6.3" height="25.50" fill="#00ff00"/>
<line x1="535.80" y1="399.70" x2="535.80" y2="401.20" stroke="#1a1a1a" stroke-width="0.9"/>
<line x1="533.40" y1="399.70" x2="538.20" y2="399.70" stroke="#1a1a1a" stroke-width="0.9"/>
<text x="536.30" y="397.60" font-size="10.6" text-anchor="middle">c</text>
<rect x="539.95" y="388.40" width="6.3" height="37.50" fill="#0000ff"/>
<line x1="543.10" y1="387.70" x2="543.10" y2="389.20" stroke="#1a1a1a" stroke-width="0.9"/>
<line x1="540.70" y1="387.70" x2="545.50" y2="387.70" stroke="#1a1a1a" stroke-width="0.9"/>
<text x="543.60" y="384.50" font-size="10.6" text-anchor="middle">b</text>
<rect x="549.38" y="373.60" width="6.3" height="52.30" fill="#ff0000"/>
<line x1="552.53" y1="372.90" x2="552.53" y2="374.40" stroke="#1a1a1a" stroke-width="0.9"/>
<line x1="550.13" y1="372.90" x2="554.93" y2="372.90" stroke="#1a1a1a" stroke-width="0.9"/>
<text x="553.03" y="368.80" font-size="10.6" text-anchor="middle">a</text>
<rect x="556.68" y="401.00" width="6.3" height="24.90" fill="#00ff00"/>
<line x1="559.83" y1="400.30" x2="559.83" y2="401.80" stroke="#1a1a1a" stroke-width="0.9"/>
<line x1="557.43" y1="400.30" x2="562.23" y2="400.30" stroke="#1a1a1a" stroke-width="0.9"/>
<text x="560.33" y="397.60" font-size="10.6" text-anchor="middle">c</text>
<rect x="563.98" y="388.90" width="6.3" height="37.00" fill="#0000ff"/>
<line x1="567.13" y1="388.20" x2="567.13" y2="389.70" stroke="#1a1a1a" stroke-width="0.9"/>
<line x1="564.73" y1="388.20" x2="569.53" y2="388.20" stroke="#1a1a1a" stroke-width="0.9"/>
<text x="567.63" y="387.00" font-size="10.6" text-anchor="middle">b</text>
<rect x="573.41" y="374.20" width="6.3" height="51.70" fill="#ff0000"/>
<line x1="576.56" y1="372.20" x2="576.56" y2="375.00" stroke="#1a1a1a" stroke-width="0.9"/>
<line x1="574.16" y1="372.20" x2="578.96" y2="372.20" stroke="#1a1a1a" stroke-width="0.9"/>
<text x="577.06" y="368.80" font-size="10.6" text-anchor="middle">a</text>
<rect x="580.71" y="387.00" width="6.3" height="38.90" fill="#00ff00"/>
<line x1="583.86" y1="386.30" x2="583.86" y2="387.80" stroke="#1a1a1a" stroke-width="0.9"/>
<line x1="581.46" y1="386.30" x2="586.26" y2="386.30" stroke="#1a1a1a" stroke-width="0.9"/>
<text x="584.36" y="385.10" font-size="10.6" text-anchor="middle">b</text>
<rect x="588.01" y="387.00" width="6.3" height="38.90" fill="#0000ff"/>
<line x1="591.16" y1="386.30" x2="591.16" y2="387.80" stroke="#1a1a1a" stroke-width="0.9"/>
<line x1="588.76" y1="386.30" x2="593.56" y2="386.30" stroke="#1a1a1a" stroke-width="0.9"/>
<text x="591.66" y="384.10" font-size="10.6" text-anchor="middle">b</text>
<rect x="597.44" y="374.20" width="6.3" height="51.70" fill="#ff0000"/>
<line x1="600.59" y1="370.70" x2="600.59" y2="375.00" stroke="#1a1a1a" stroke-width="0.9"/>
<line x1="598.19" y1="370.70" x2="602.99" y2="370.70" stroke="#1a1a1a" stroke-width="0.9"/>
<text x="601.09" y="367.80" font-size="10.6" text-anchor="middle">a</text>
<rect x="604.74" y="413.50" width="6.3" height="12.40" fill="#00ff00"/>
<line x1="607.89" y1="412.80" x2="607.89" y2="414.30" stroke="#1a1a1a" stroke-width="0.9"/>
<line x1="605.49" y1="412.80" x2="610.29" y2="412.80" stroke="#1a1a1a" stroke-width="0.9"/>
<text x="610.39" y="410.00" font-size="10.6" text-anchor="middle">b</text>
<rect x="612.04" y="401.80" width="6.3" height="24.10" fill="#0000ff"/>
<line x1="615.19" y1="401.10" x2="615.19" y2="402.60" stroke="#1a1a1a" stroke-width="0.9"/>
<line x1="612.79" y1="401.10" x2="617.59" y2="401.10" stroke="#1a1a1a" stroke-width="0.9"/>
<text x="615.69" y="401.00" font-size="10.6" text-anchor="middle">b</text>
<rect x="621.47" y="374.20" width="6.3" height="51.70" fill="#ff0000"/>
<line x1="624.62" y1="372.20" x2="624.62" y2="375.00" stroke="#1a1a1a" stroke-width="0.9"/>
<line x1="622.22" y1="372.20" x2="627.02" y2="372.20" stroke="#1a1a1a" stroke-width="0.9"/>
<text x="625.12" y="368.80" font-size="10.6" text-anchor="middle">b</text>
<rect x="628.77" y="359.60" width="6.3" height="66.30" fill="#00ff00"/>
<line x1="631.92" y1="356.30" x2="631.92" y2="360.40" stroke="#1a1a1a" stroke-width="0.9"/>
<line x1="629.52" y1="356.30" x2="634.32" y2="356.30" stroke="#1a1a1a" stroke-width="0.9"/>
<text x="632.42" y="354.40" font-size="10.6" text-anchor="middle">a</text>
<rect x="636.07" y="390.90" width="6.3" height="35.00" fill="#0000ff"/>
<line x1="639.22" y1="390.20" x2="639.22" y2="391.70" stroke="#1a1a1a" stroke-width="0.9"/>
<line x1="636.82" y1="390.20" x2="641.62" y2="390.20" stroke="#1a1a1a" stroke-width="0.9"/>
<text x="639.72" y="389.50" font-size="10.6" text-anchor="middle">b</text>
<rect x="645.50" y="373.60" width="6.3" height="52.30" fill="#ff0000"/>
<line x1="648.65" y1="372.90" x2="648.65" y2="374.40" stroke="#1a1a1a" stroke-width="0.9"/>
<line x1="646.25" y1="372.90" x2="651.05" y2="372.90" stroke="#1a1a1a" stroke-width="0.9"/>
<text x="649.15" y="370.70" font-size="10.6" text-anchor="middle">a</text>
<rect x="652.80" y="387.00" width="6.3" height="38.90" fill="#00ff00"/>
<line x1="655.95" y1="386.30" x2="655.95" y2="387.80" stroke="#1a1a1a" stroke-width="0.9"/>
<line x1="653.55" y1="386.30" x2="658.35" y2="386.30" stroke="#1a1a1a" stroke-width="0.9"/>
<text x="656.45" y="384.10" font-size="10.6" text-anchor="middle">b</text>
<rect x="660.10" y="388.90" width="6.3" height="37.00" fill="#0000ff"/>
<line x1="663.25" y1="388.20" x2="663.25" y2="389.70" stroke="#1a1a1a" stroke-width="0.9"/>
<line x1="660.85" y1="388.20" x2="665.65" y2="388.20" stroke="#1a1a1a" stroke-width="0.9"/>
<text x="663.75" y="385.10" font-size="10.6" text-anchor="middle">c</text>
<line x1="43" y1="281.3" x2="43" y2="426.6" stroke="#1a1a1a" stroke-width="1.7"/>
<line x1="42.3" y1="426.3" x2="667.6" y2="426.3" stroke="#1a1a1a" stroke-width="1.6"/>
<line x1="38" y1="286.50" x2="43" y2="286.50" stroke="#1a1a1a" stroke-width="1.1"/>
<text x="34.4" y="289.16" font-size="11.8" text-anchor="end">64</text>
<line x1="38" y1="300.50" x2="43" y2="300.50" stroke="#1a1a1a" stroke-width="1.1"/>
<text x="34.4" y="303.70" font-size="11.8" text-anchor="end">32</text>
<line x1="38" y1="315.50" x2="43" y2="315.50" stroke="#1a1a1a" stroke-width="1.1"/>
<text x="34.4" y="318.24" font-size="11.8" text-anchor="end">16</text>
<line x1="38" y1="329.50" x2="43" y2="329.50" stroke="#1a1a1a" stroke-width="1.1"/>
<text x="34.4" y="332.78" font-size="11.8" text-anchor="end">8</text>
<line x1="38" y1="344.50" x2="43" y2="344.50" stroke="#1a1a1a" stroke-width="1.1"/>
<text x="34.4" y="347.32" font-size="11.8" text-anchor="end">4</text>
<line x1="38" y1="358.50" x2="43" y2="358.50" stroke="#1a1a1a" stroke-width="1.1"/>
<text x="34.4" y="361.86" font-size="11.8" text-anchor="end">2</text>
<line x1="38" y1="373.50" x2="43" y2="373.50" stroke="#1a1a1a" stroke-width="1.1"/>
<text x="34.4" y="376.40" font-size="11.8" text-anchor="end">1</text>
<line x1="38" y1="388.50" x2="43" y2="388.50" stroke="#1a1a1a" stroke-width="1.1"/>
<text x="34.4" y="390.94" font-size="11.8" text-anchor="end">0.5</text>
<line x1="38" y1="402.50" x2="43" y2="402.50" stroke="#1a1a1a" stroke-width="1.1"/>
<text x="34.4" y="405.48" font-size="11.8" text-anchor="end">0.25</text>
<line x1="38" y1="417.50" x2="43" y2="417.50" stroke="#1a1a1a" stroke-width="1.1"/>
<text x="34.4" y="420.02" font-size="11.8" text-anchor="end">0.125</text>
<line x1="40.3" y1="424.50" x2="43" y2="424.50" stroke="#1a1a1a" stroke-width="1"/>
<line x1="40.3" y1="421.50" x2="43" y2="421.50" stroke="#1a1a1a" stroke-width="1"/>
<line x1="40.3" y1="419.50" x2="43" y2="419.50" stroke="#1a1a1a" stroke-width="1"/>
<line x1="40.3" y1="414.50" x2="43" y2="414.50" stroke="#1a1a1a" stroke-width="1"/>
<line x1="40.3" y1="412.50" x2="43" y2="412.50" stroke="#1a1a1a" stroke-width="1"/>
<line x1="40.3" y1="409.50" x2="43" y2="409.50" stroke="#1a1a1a" stroke-width="1"/>
<line x1="40.3" y1="407.50" x2="43" y2="407.50" stroke="#1a1a1a" stroke-width="1"/>
<line x1="40.3" y1="405.50" x2="43" y2="405.50" stroke="#1a1a1a" stroke-width="1"/>
<line x1="40.3" y1="400.50" x2="43" y2="400.50" stroke="#1a1a1a" stroke-width="1"/>
<line x1="40.3" y1="397.50" x2="43" y2="397.50" stroke="#1a1a1a" stroke-width="1"/>
<line x1="40.3" y1="395.50" x2="43" y2="395.50" stroke="#1a1a1a" stroke-width="1"/>
<line x1="40.3" y1="392.50" x2="43" y2="392.50" stroke="#1a1a1a" stroke-width="1"/>
<line x1="40.3" y1="390.50" x2="43" y2="390.50" stroke="#1a1a1a" stroke-width="1"/>
<line x1="40.3" y1="385.50" x2="43" y2="385.50" stroke="#1a1a1a" stroke-width="1"/>
<line x1="40.3" y1="383.50" x2="43" y2="383.50" stroke="#1a1a1a" stroke-width="1"/>
<line x1="40.3" y1="380.50" x2="43" y2="380.50" stroke="#1a1a1a" stroke-width="1"/>
<line x1="40.3" y1="378.50" x2="43" y2="378.50" stroke="#1a1a1a" stroke-width="1"/>
<line x1="40.3" y1="375.50" x2="43" y2="375.50" stroke="#1a1a1a" stroke-width="1"/>
<line x1="40.3" y1="371.50" x2="43" y2="371.50" stroke="#1a1a1a" stroke-width="1"/>
<line x1="40.3" y1="368.50" x2="43" y2="368.50" stroke="#1a1a1a" stroke-width="1"/>
<line x1="40.3" y1="366.50" x2="43" y2="366.50" stroke="#1a1a1a" stroke-width="1"/>
<line x1="40.3" y1="363.50" x2="43" y2="363.50" stroke="#1a1a1a" stroke-width="1"/>
<line x1="40.3" y1="361.50" x2="43" y2="361.50" stroke="#1a1a1a" stroke-width="1"/>
<line x1="40.3" y1="356.50" x2="43" y2="356.50" stroke="#1a1a1a" stroke-width="1"/>
<line x1="40.3" y1="354.50" x2="43" y2="354.50" stroke="#1a1a1a" stroke-width="1"/>
<line x1="40.3" y1="351.50" x2="43" y2="351.50" stroke="#1a1a1a" stroke-width="1"/>
<line x1="40.3" y1="349.50" x2="43" y2="349.50" stroke="#1a1a1a" stroke-width="1"/>
<line x1="40.3" y1="346.50" x2="43" y2="346.50" stroke="#1a1a1a" stroke-width="1"/>
<line x1="40.3" y1="341.50" x2="43" y2="341.50" stroke="#1a1a1a" stroke-width="1"/>
<line x1="40.3" y1="339.50" x2="43" y2="339.50" stroke="#1a1a1a" stroke-width="1"/>
<line x1="40.3" y1="337.50" x2="43" y2="337.50" stroke="#1a1a1a" stroke-width="1"/>
<line x1="40.3" y1="334.50" x2="43" y2="334.50" stroke="#1a1a1a" stroke-width="1"/>
<line x1="40.3" y1="332.50" x2="43" y2="332.50" stroke="#1a1a1a" stroke-width="1"/>
<line x1="40.3" y1="327.50" x2="43" y2="327.50" stroke="#1a1a1a" stroke-width="1"/>
<line x1="40.3" y1="325.50" x2="43" y2="325.50" stroke="#1a1a1a" stroke-width="1"/>
<line x1="40.3" y1="322.50" x2="43" y2="322.50" stroke="#1a1a1a" stroke-width="1"/>
<line x1="40.3" y1="320.50" x2="43" y2="320.50" stroke="#1a1a1a" stroke-width="1"/>
<line x1="40.3" y1="317.50" x2="43" y2="317.50" stroke="#1a1a1a" stroke-width="1"/>
<line x1="40.3" y1="312.50" x2="43" y2="312.50" stroke="#1a1a1a" stroke-width="1"/>
<line x1="40.3" y1="310.50" x2="43" y2="310.50" stroke="#1a1a1a" stroke-width="1"/>
<line x1="40.3" y1="308.50" x2="43" y2="308.50" stroke="#1a1a1a" stroke-width="1"/>
<line x1="40.3" y1="305.50" x2="43" y2="305.50" stroke="#1a1a1a" stroke-width="1"/>
<line x1="40.3" y1="303.50" x2="43" y2="303.50" stroke="#1a1a1a" stroke-width="1"/>
<line x1="40.3" y1="298.50" x2="43" y2="298.50" stroke="#1a1a1a" stroke-width="1"/>
<line x1="40.3" y1="295.50" x2="43" y2="295.50" stroke="#1a1a1a" stroke-width="1"/>
<line x1="40.3" y1="293.50" x2="43" y2="293.50" stroke="#1a1a1a" stroke-width="1"/>
<line x1="40.3" y1="291.50" x2="43" y2="291.50" stroke="#1a1a1a" stroke-width="1"/>
<line x1="40.3" y1="288.50" x2="43" y2="288.50" stroke="#1a1a1a" stroke-width="1"/>
<line x1="40.3" y1="283.50" x2="43" y2="283.50" stroke="#1a1a1a" stroke-width="1"/>
<line x1="40.3" y1="281.50" x2="43" y2="281.50" stroke="#1a1a1a" stroke-width="1"/>
<text transform="translate(11.1,346) rotate(-90)" font-size="12" text-anchor="middle">mRNA level</text>
<text transform="translate(58.05,432.8) rotate(-90) scale(1,1.07)" font-size="11.8" text-anchor="end">c55625</text>
<text transform="translate(82.08,432.8) rotate(-90) scale(1,1.07)" font-size="11.8" text-anchor="end">c55525</text>
<text transform="translate(106.11,432.8) rotate(-90) scale(1,1.07)" font-size="11.8" text-anchor="end">c39067</text>
<text transform="translate(130.14,432.8) rotate(-90) scale(1,1.07)" font-size="11.8" text-anchor="end">c55432</text>
<text transform="translate(154.17,432.8) rotate(-90) scale(1,1.07)" font-size="11.8" text-anchor="end">c55690</text>
<text transform="translate(178.20,432.8) rotate(-90) scale(1,1.07)" font-size="11.8" text-anchor="end">c20251</text>
<text transform="translate(202.23,432.8) rotate(-90) scale(1,1.07)" font-size="11.8" text-anchor="end">c54131</text>
<text transform="translate(226.26,432.8) rotate(-90) scale(1,1.07)" font-size="11.8" text-anchor="end">c52264</text>
<text transform="translate(250.29,432.8) rotate(-90) scale(1,1.07)" font-size="11.8" text-anchor="end">c54944</text>
<text transform="translate(274.32,432.8) rotate(-90) scale(1,1.07)" font-size="11.8" text-anchor="end">c55106</text>
<text transform="translate(298.35,432.8) rotate(-90) scale(1,1.07)" font-size="11.8" text-anchor="end">c50341</text>
<text transform="translate(322.38,432.8) rotate(-90) scale(1,1.07)" font-size="11.8" text-anchor="end">c52316</text>
<text transform="translate(346.41,432.8) rotate(-90) scale(1,1.07)" font-size="11.8" text-anchor="end">c51528</text>
<text transform="translate(370.44,432.8) rotate(-90) scale(1,1.07)" font-size="11.8" text-anchor="end">c46935</text>
<text transform="translate(394.47,432.8) rotate(-90) scale(1,1.07)" font-size="11.8" text-anchor="end">c64489</text>
<text transform="translate(418.50,432.8) rotate(-90) scale(1,1.07)" font-size="11.8" text-anchor="end">c51871</text>
<text transform="translate(442.53,432.8) rotate(-90) scale(1,1.07)" font-size="11.8" text-anchor="end">c52585</text>
<text transform="translate(466.56,432.8) rotate(-90) scale(1,1.07)" font-size="11.8" text-anchor="end">c40732</text>
<text transform="translate(490.59,432.8) rotate(-90) scale(1,1.07)" font-size="11.8" text-anchor="end">c38108</text>
<text transform="translate(514.62,432.8) rotate(-90) scale(1,1.07)" font-size="11.8" text-anchor="end">c46800</text>
<text transform="translate(538.65,432.8) rotate(-90) scale(1,1.07)" font-size="11.8" text-anchor="end">c50433</text>
<text transform="translate(562.68,432.8) rotate(-90) scale(1,1.07)" font-size="11.8" text-anchor="end">c48617</text>
<text transform="translate(586.71,432.8) rotate(-90) scale(1,1.07)" font-size="11.8" text-anchor="end">c44072</text>
<text transform="translate(610.74,432.8) rotate(-90) scale(1,1.07)" font-size="11.8" text-anchor="end">c31769</text>
<text transform="translate(634.77,432.8) rotate(-90) scale(1,1.07)" font-size="11.8" text-anchor="end">c47696</text>
<text transform="translate(658.80,432.8) rotate(-90) scale(1,1.07)" font-size="11.8" text-anchor="end">c68816</text>
<rect x="571.1" y="274.40" width="25.8" height="9.0" fill="#ff0000"/>
<text x="601.2" y="283.10" font-size="11.7">AC</text>
<rect x="571.1" y="289.35" width="25.8" height="9.0" fill="#00ff00"/>
<text x="601.2" y="298.05" font-size="11.7">AM</text>
<rect x="571.1" y="304.30" width="25.8" height="9.0" fill="#0000ff"/>
<text x="601.2" y="313.00" font-size="11.7">AF</text>
<circle cx="57.9" cy="312.9" r="0.9" fill="#c4c4c4"/>
</g>
</svg></body></html>
